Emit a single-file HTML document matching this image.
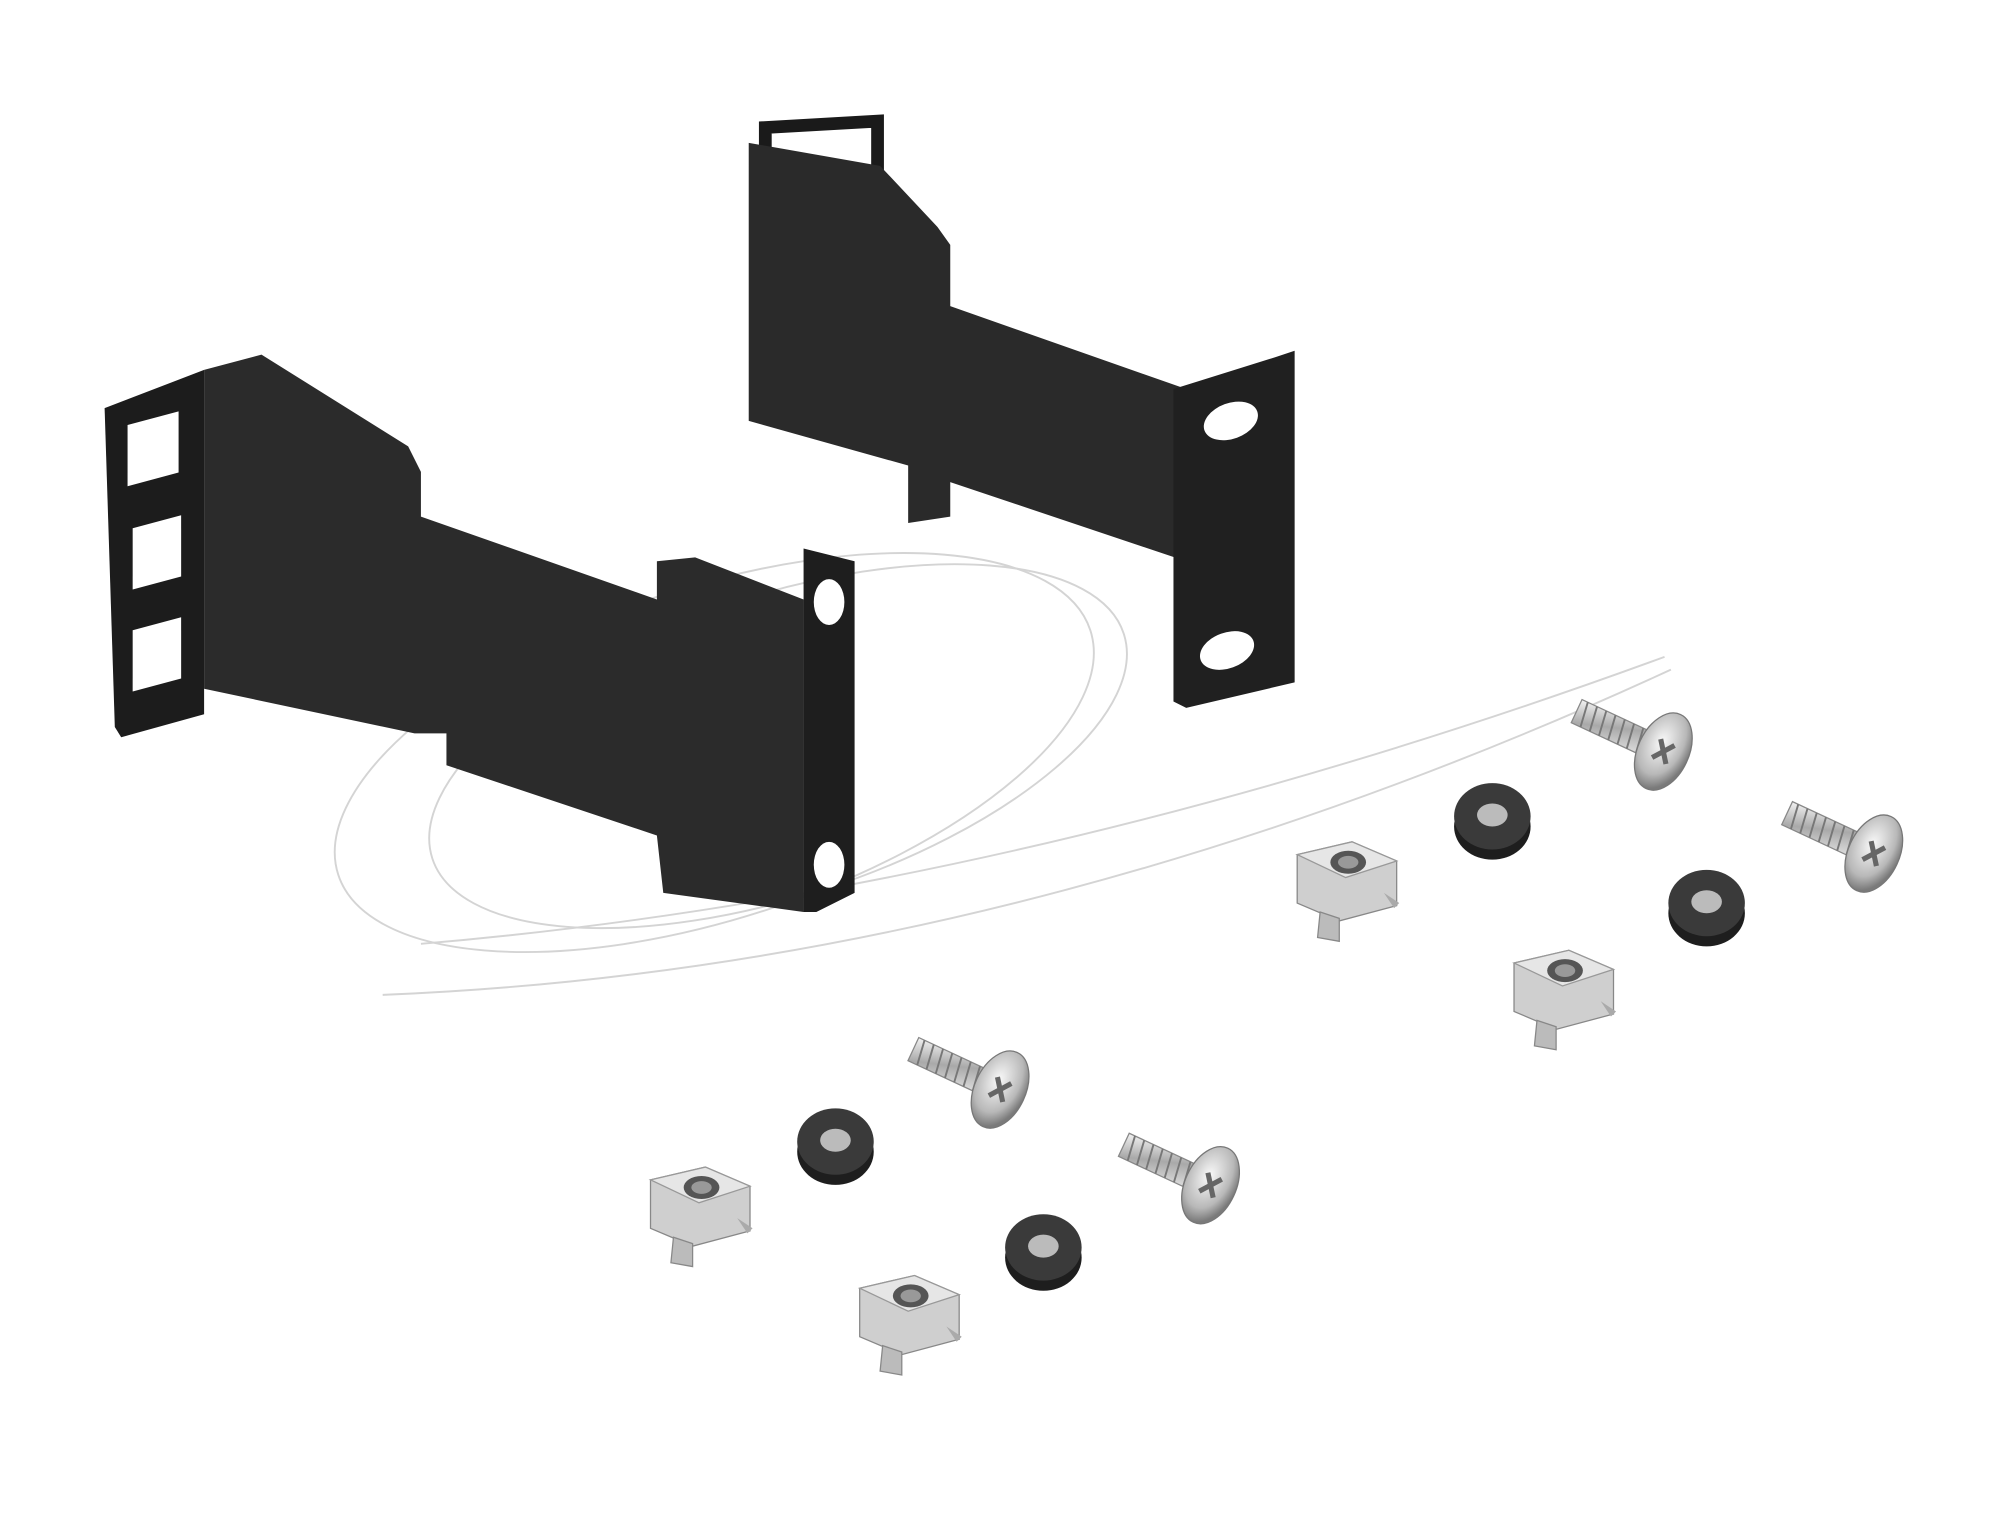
<!DOCTYPE html>
<html><head><meta charset="utf-8"><style>html,body{margin:0;padding:0;background:#fff}svg{display:block}</style></head>
<body>
<svg width="2000" height="1514" viewBox="0 0 1568 1187" xmlns="http://www.w3.org/2000/svg">
<defs>
<linearGradient id="met" x1="0" y1="0" x2="1" y2="1"><stop offset="0" stop-color="#f2f2f2"/><stop offset="0.5" stop-color="#a9a9a9"/><stop offset="1" stop-color="#e0e0e0"/></linearGradient>
<radialGradient id="head" cx="0.4" cy="0.4" r="0.6"><stop offset="0" stop-color="#fafafa"/><stop offset="0.7" stop-color="#b8b8b8"/><stop offset="1" stop-color="#7a7a7a"/></radialGradient>
<g id="screw">
<g transform="rotate(25)">
<rect x="-65" y="-10" width="60" height="20" fill="url(#met)" stroke="#888" stroke-width="1"/>
<g stroke="#777" stroke-width="1.5"><line x1="-60" y1="-10" x2="-57" y2="10"/><line x1="-52" y1="-10" x2="-49" y2="10"/><line x1="-44" y1="-10" x2="-41" y2="10"/><line x1="-36" y1="-10" x2="-33" y2="10"/><line x1="-28" y1="-10" x2="-25" y2="10"/><line x1="-20" y1="-10" x2="-17" y2="10"/><line x1="-12" y1="-10" x2="-9" y2="10"/></g>
<ellipse cx="10" cy="0" rx="20" ry="32" fill="url(#head)" stroke="#777"/>
<path d="M4 -8 L16 8 M16 -8 L4 8" stroke="#666" stroke-width="4"/>
</g>
</g>
<g id="washer">
<ellipse cx="0" cy="8" rx="30" ry="26" fill="#1e1e1e"/>
<ellipse cx="0" cy="0" rx="30" ry="26" fill="#3a3a3a"/>
<ellipse cx="0" cy="-1" rx="12" ry="9" fill="#bbb"/>
</g>
<g id="nut">
<path d="M-38 -20 L5 -30 L40 -15 L40 20 L-5 32 L-38 18 Z" fill="#cfcfcf" stroke="#888"/>
<path d="M-38 -20 L5 -30 L40 -15 L0 -2 Z" fill="#e6e6e6" stroke="#999"/>
<ellipse cx="2" cy="-14" rx="14" ry="9" fill="#555"/>
<ellipse cx="2" cy="-14" rx="8" ry="5" fill="#999"/>
<path d="M-20 25 L-22 45 L-5 48 L-5 30 Z" fill="#bbb" stroke="#888"/>
<path d="M30 10 L38 22 L42 18 Z" fill="#aaa"/>
</g>
</defs>
<g fill="none" stroke="#d4d4d4" stroke-width="1.5">
<ellipse cx="560" cy="590" rx="310" ry="130" transform="rotate(-18 560 590)"/>
<ellipse cx="610" cy="585" rx="285" ry="118" transform="rotate(-18 610 585)"/>
<path d="M300 780 Q 800 760 1310 525"/>
<path d="M330 740 Q 800 700 1305 515"/>
</g>
<path d="M600 118 L600 100 L688 95 L688 135" fill="none" stroke="#1a1a1a" stroke-width="10"/>
<path d="M587 112 L690 130 L735 178 L745 192 L745 240 L930 305 L930 440 L745 378 L745 405 L712 410 L712 365 L587 330 Z" fill="#2a2a2a"/>
<path d="M920 305 L1000 280 L1015 275 L1015 535 L930 555 L920 550 Z" fill="#202020"/>
<ellipse cx="965" cy="330" rx="22" ry="14" fill="#fff" transform="rotate(-20 965 330)"/>
<ellipse cx="962" cy="510" rx="22" ry="14" fill="#fff" transform="rotate(-20 962 510)"/>
<path d="M82 320 L160 290 L160 560 L95 578 L90 570 Z" fill="#1c1c1c"/>
<rect x="100" y="330" width="40" height="48" fill="#fff" transform="skewY(-15) translate(0 30)"/>
<rect x="104" y="412" width="38" height="48" fill="#fff" transform="skewY(-15) translate(0 30)"/>
<rect x="104" y="492" width="38" height="48" fill="#fff" transform="skewY(-15) translate(0 30)"/>
<path d="M160 290 L205 278 L320 350 L330 370 L330 405 L515 470 L515 440 L545 437 L630 470 L630 715 L520 700 L515 655 L350 600 L350 575 L325 575 L160 540 Z" fill="#2b2b2b"/>
<path d="M630 430 L670 440 L670 700 L640 715 L630 715 L630 470 Z" fill="#1e1e1e"/>
<ellipse cx="650" cy="472" rx="12" ry="18" fill="#fff"/>
<ellipse cx="650" cy="678" rx="12" ry="18" fill="#fff"/>
<use href="#screw" x="1295" y="585"/>
<use href="#screw" x="1460" y="665"/>
<use href="#washer" x="1170" y="640"/>
<use href="#washer" x="1338" y="708"/>
<use href="#nut" x="1055" y="690"/>
<use href="#nut" x="1225" y="775"/>
<use href="#screw" x="775" y="850"/>
<use href="#screw" x="940" y="925"/>
<use href="#washer" x="655" y="895"/>
<use href="#washer" x="818" y="978"/>
<use href="#nut" x="548" y="945"/>
<use href="#nut" x="712" y="1030"/>
</svg>
</body></html>
